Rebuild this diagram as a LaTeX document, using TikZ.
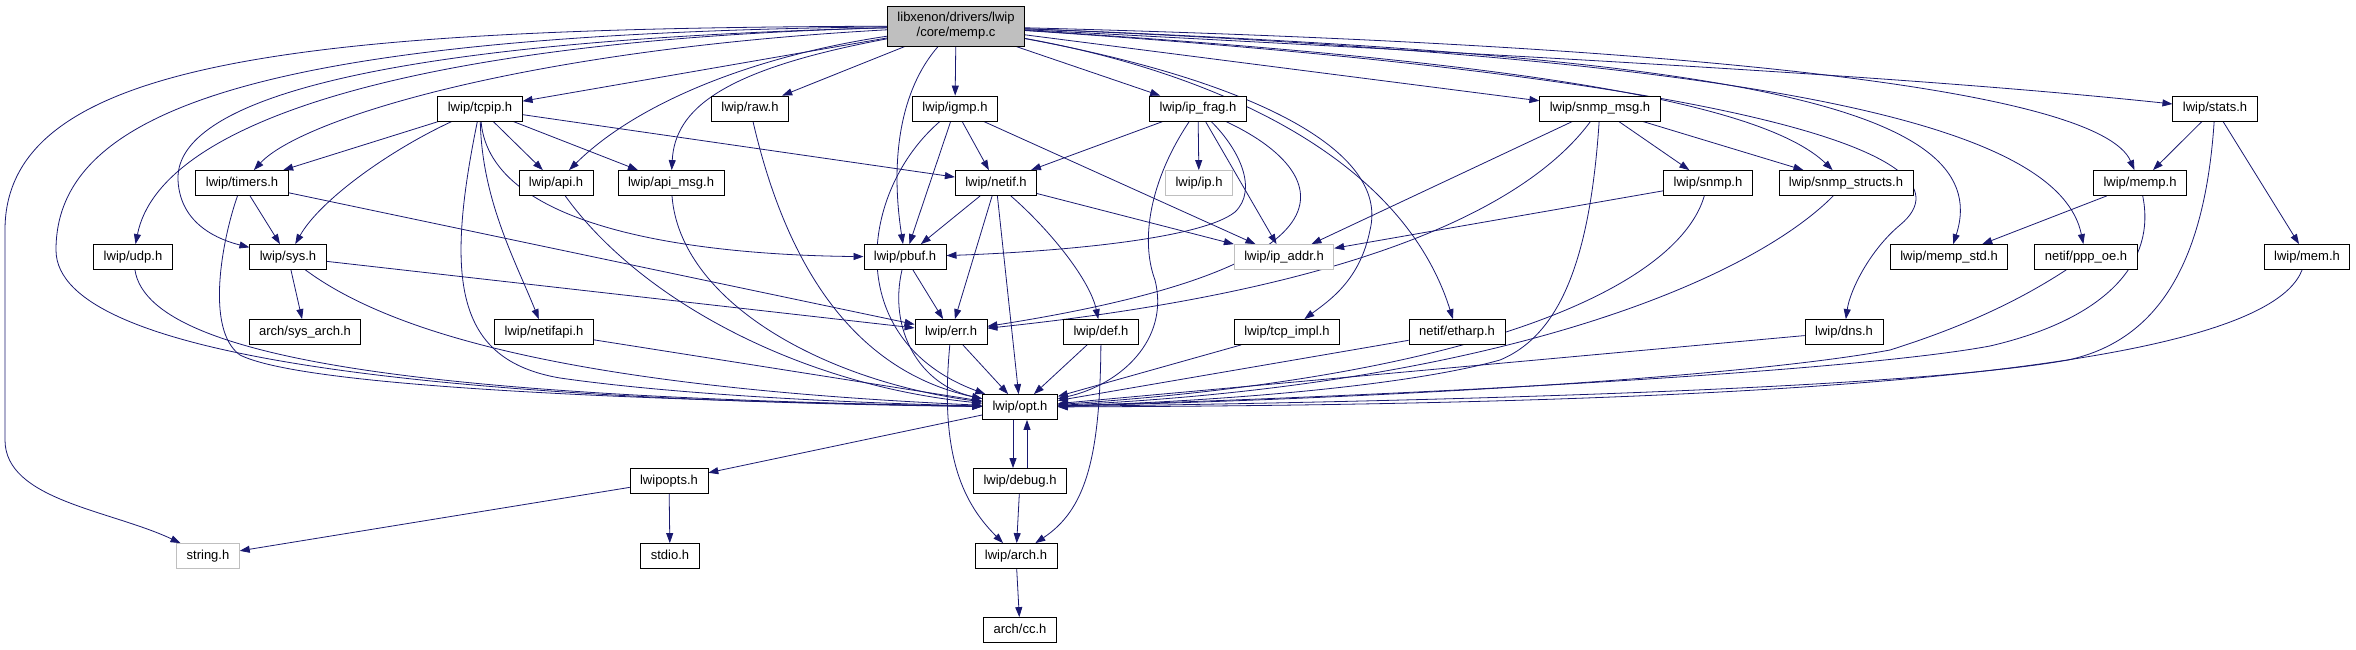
\documentclass[tikz,border=0pt]{standalone}
\usepackage{fontspec}
\usepackage{tikz}
\usetikzlibrary{arrows.meta}
\newfontfamily\dotfont{Liberation Sans}
\definecolor{edgeblue}{HTML}{191970}
\definecolor{ghost}{HTML}{BFBFBF}
\pgfdeclarelayer{edges}
\pgfsetlayers{edges,main}
\tikzset{
  hdr/.style={draw=black, fill=white, line width=0.8pt, inner xsep=10pt, inner ysep=0pt,
              minimum height=25pt, text height=9.5pt, text depth=2.7pt,
              font=\dotfont\fontsize{13pt}{15pt}\selectfont},
  ghosthdr/.style={hdr, draw=ghost},
  srcfile/.style={hdr, fill=ghost, minimum height=40pt, text height=, text depth=, align=center},
  dep/.style={draw=edgeblue, line width=0.8pt, -{Triangle[length=10pt,width=7pt]}},
}

\begin{document}
\begin{tikzpicture}[x=1pt, y=-1pt]
    \useasboundingbox (0,0) rectangle (2356,649);
    % Nodes, row by row
    \node[srcfile] (memp) at (956,26) {libxenon/drivers/lwip\\/core/memp.c};
    \node[hdr] (tcpip)   at (480,108.5)  {lwip/tcpip.h};
    \node[hdr] (raw)     at (750,108.5)  {lwip/raw.h};
    \node[hdr] (igmp)    at (955,108.5)  {lwip/igmp.h};
    \node[hdr] (ipfrag)  at (1198,108.5) {lwip/ip\_frag.h};
    \node[hdr] (snmpmsg) at (1600,108.5) {lwip/snmp\_msg.h};
    \node[hdr] (stats)   at (2215,108.5) {lwip/stats.h};
    \node[hdr] (timers)  at (242,183)  {lwip/timers.h};
    \node[hdr] (api)     at (556,183)  {lwip/api.h};
    \node[hdr] (apimsg)  at (671,183)  {lwip/api\_msg.h};
    \node[hdr] (netif)   at (996,183)  {lwip/netif.h};
    \node[ghosthdr] (ip) at (1199,183) {lwip/ip.h};
    \node[hdr] (snmp)    at (1708,183) {lwip/snmp.h};
    \node[hdr] (snmpstr) at (1846,183) {lwip/snmp\_structs.h};
    \node[hdr] (memph)   at (2140,183) {lwip/memp.h};
    \node[hdr] (udp)     at (133,257)  {lwip/udp.h};
    \node[hdr] (sys)     at (288,257)  {lwip/sys.h};
    \node[hdr] (pbuf)    at (905,257)  {lwip/pbuf.h};
    \node[ghosthdr] (ipaddr) at (1284,257) {lwip/ip\_addr.h};
    \node[hdr] (mempstd) at (1949,257) {lwip/memp\_std.h};
    \node[hdr] (pppoe)   at (2086,257) {netif/ppp\_oe.h};
    \node[hdr] (mem)     at (2307,257) {lwip/mem.h};
    \node[hdr] (sysarch) at (305,332)  {arch/sys\_arch.h};
    \node[hdr] (netifapi) at (544,332) {lwip/netifapi.h};
    \node[hdr] (err)     at (951,332)  {lwip/err.h};
    \node[hdr] (def)     at (1101,332) {lwip/def.h};
    \node[hdr] (tcpimpl) at (1287,332) {lwip/tcp\_impl.h};
    \node[hdr] (etharp)  at (1457,332) {netif/etharp.h};
    \node[hdr] (dns)     at (1844,332) {lwip/dns.h};
    \node[hdr] (opt)     at (1020,407) {lwip/opt.h};
    \node[hdr] (lwipopts) at (669,481) {lwipopts.h};
    \node[hdr] (debug)   at (1020,481) {lwip/debug.h};
    \node[ghosthdr] (string) at (208,556) {string.h};
    \node[hdr] (stdio)   at (670,556)  {stdio.h};
    \node[hdr] (arch)    at (1016,556) {lwip/arch.h};
    \node[hdr] (cc)      at (1020,630) {arch/cc.h};
    \begin{pgfonlayer}{edges}
    % memp.c includes
    \draw[dep] (memp) .. controls (300,28) and (5,60) .. (5,230) -- (5,440) .. controls (5,500) and (110,510) .. (string);
    \draw[dep] (memp) .. controls (260,34) and (56,110) .. (56,250) .. controls (56,360) and (450,400) .. (opt);
    \draw[dep] (memp) .. controls (420,40) and (160,120) .. (udp);
    \draw[dep] (memp) .. controls (330,42) and (175,110) .. (178,180) .. controls (180,225) and (220,240) .. (sys);
    \draw[dep] (memp) .. controls (520,50) and (300,120) .. (timers);
    \draw[dep] (memp) -- (tcpip);
    \draw[dep] (memp) .. controls (760,55) and (640,100) .. (api);
    \draw[dep] (memp) .. controls (720,70) and (675,110) .. (apimsg);
    \draw[dep] (memp) -- (raw);
    \draw[dep] (memp) .. controls (900,90) and (890,160) .. (pbuf);
    \draw[dep] (memp) -- (igmp);
    \draw[dep] (memp) -- (ipfrag);
    \draw[dep] (memp) -- (snmpmsg);
    \draw[dep] (memp) .. controls (1500,55) and (1900,75) .. (stats);
    \draw[dep] (memp) .. controls (1700,45) and (2100,90) .. (memph);
    \draw[dep] (memp) .. controls (1700,55) and (2000,100) .. (mempstd);
    \draw[dep] (memp) .. controls (1800,60) and (2060,130) .. (pppoe);
    \draw[dep] (memp) .. controls (1700,75) and (1990,150) .. (1900,225) .. controls (1870,250) and (1850,290) .. (dns);
    \draw[dep] (memp) .. controls (1500,60) and (1760,100) .. (snmpstr);
    \draw[dep] (memp) .. controls (1250,80) and (1390,150) .. (1370,230) .. controls (1360,280) and (1330,300) .. (tcpimpl);
    \draw[dep] (memp) .. controls (1200,70) and (1400,150) .. (etharp);
    % tcpip.h and its neighbours
    \draw[dep] (tcpip) -- (timers);
    \draw[dep] (tcpip) -- (api);
    \draw[dep] (tcpip) -- (apimsg);
    \draw[dep] (tcpip) -- (netif);
    \draw[dep] (tcpip) .. controls (390,150) and (320,200) .. (sys);
    \draw[dep] (tcpip) .. controls (482,200) and (515,260) .. (netifapi);
    \draw[dep] (tcpip) .. controls (490,230) and (700,255) .. (pbuf);
    \draw[dep] (tcpip) .. controls (445,280) and (455,360) .. (560,378) .. controls (700,398) and (900,404) .. (opt);
    \draw[dep] (timers) -- (sys);
    \draw[dep] (timers) -- (err);
    \draw[dep] (timers) .. controls (222,240) and (205,330) .. (240,355) .. controls (300,385) and (600,400) .. (opt);
    \draw[dep] (sys) -- (sysarch);
    \draw[dep] (sys) -- (err);
    \draw[dep] (sys) .. controls (400,340) and (600,388) .. (opt);
    \draw[dep] (udp) .. controls (150,370) and (500,398) .. (opt);
    \draw[dep] (api) .. controls (640,300) and (800,385) .. (opt);
    \draw[dep] (apimsg) .. controls (680,300) and (820,380) .. (opt);
    \draw[dep] (raw) .. controls (785,260) and (850,370) .. (opt);
    \draw[dep] (netifapi) -- (opt);
    % igmp.h, ip_frag.h, netif.h
    \draw[dep] (igmp) -- (netif);
    \draw[dep] (igmp) -- (pbuf);
    \draw[dep] (igmp) -- (ipaddr);
    \draw[dep] (igmp) .. controls (860,190) and (840,340) .. (opt);
    \draw[dep] (ipfrag) -- (netif);
    \draw[dep] (ipfrag) -- (ip);
    \draw[dep] (ipfrag) .. controls (1240,150) and (1258,190) .. (1235,212) .. controls (1200,240) and (1050,252) .. (pbuf);
    \draw[dep] (ipfrag) -- (ipaddr);
    \draw[dep] (ipfrag) .. controls (1330,170) and (1380,265) .. (err);
    \draw[dep] (ipfrag) .. controls (1150,180) and (1140,240) .. (1155,280) .. controls (1170,340) and (1120,385) .. (opt);
    \draw[dep] (netif) -- (pbuf);
    \draw[dep] (netif) -- (err);
    \draw[dep] (netif) -- (opt);
    \draw[dep] (netif) .. controls (1050,230) and (1090,280) .. (def);
    \draw[dep] (netif) -- (ipaddr);
    \draw[dep] (pbuf) -- (err);
    \draw[dep] (pbuf) .. controls (888,330) and (920,385) .. (opt);
    \draw[dep] (err) -- (opt);
    \draw[dep] (err) .. controls (940,450) and (960,500) .. (arch);
    \draw[dep] (def) -- (opt);
    \draw[dep] (def) .. controls (1100,460) and (1085,510) .. (arch);
    % snmp and stats side
    \draw[dep] (snmpmsg) -- (ipaddr);
    \draw[dep] (snmpmsg) .. controls (1540,190) and (1400,285) .. (err);
    \draw[dep] (snmpmsg) .. controls (1590,260) and (1560,335) .. (1500,360) .. controls (1400,388) and (1200,402) .. (opt);
    \draw[dep] (snmpmsg) -- (snmp);
    \draw[dep] (snmpmsg) -- (snmpstr);
    \draw[dep] (snmp) -- (ipaddr);
    \draw[dep] (snmp) .. controls (1680,280) and (1500,375) .. (opt);
    \draw[dep] (snmpstr) .. controls (1750,280) and (1500,385) .. (opt);
    \draw[dep] (stats) -- (memph);
    \draw[dep] (stats) -- (mem);
    \draw[dep] (stats) .. controls (2205,260) and (2160,340) .. (2068,360) .. controls (1900,390) and (1400,402) .. (opt);
    \draw[dep] (memph) -- (mempstd);
    \draw[dep] (memph) .. controls (2156,260) and (2110,318) .. (1990,346) .. controls (1850,372) and (1400,396) .. (opt);
    \draw[dep] (mem) .. controls (2260,380) and (1700,405) .. (opt);
    \draw[dep] (pppoe) .. controls (2020,300) and (1966,326) .. (1890,350) .. controls (1750,376) and (1400,398) .. (opt);
    \draw[dep] (dns) -- (opt);
    \draw[dep] (tcpimpl) -- (opt);
    \draw[dep] (etharp) -- (opt);
    % below opt.h
    \draw[dep] (opt) -- (lwipopts);
    \draw[dep] ([xshift=-7pt]opt.south) -- ([xshift=-7pt]debug.north);
    \draw[dep] ([xshift=7pt]debug.north) -- ([xshift=7pt]opt.south);
    \draw[dep] (debug) -- (arch);
    \draw[dep] (arch) -- (cc);
    \draw[dep] (lwipopts) -- (string);
    \draw[dep] (lwipopts) -- (stdio);
    \end{pgfonlayer}
  \end{tikzpicture}
\end{document}
